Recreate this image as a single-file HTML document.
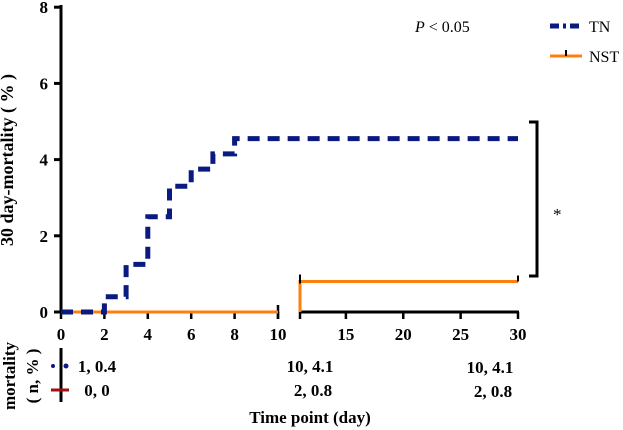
<!DOCTYPE html>
<html><head><meta charset="utf-8"><style>
body{margin:0;background:#fff}
svg{display:block;font-family:"Liberation Serif",serif}
.t{font-weight:bold;font-size:17px}
</style></head><body>
<svg width="623" height="430" viewBox="0 0 623 430">
<g id="axes"></g>
<g id="series"></g>
<text x="13" y="160" class="t" style="font-size:18px" transform="rotate(-90 13 160)" text-anchor="middle">30 day-mortality ( % )</text>
<text x="310" y="423" class="t" text-anchor="middle">Time point (day)</text>
<text x="415" y="32" font-size="16"><tspan font-style="italic">P</tspan> &lt; 0.05</text>
<g>
<line x1="550" y1="26" x2="582" y2="26" stroke="#0b1a80" stroke-width="5" stroke-dasharray="9,4,3,4"/>
<text x="589" y="32" font-size="16">TN</text></g>
<g>
<line x1="550" y1="56" x2="582" y2="56" stroke="#ff7f0e" stroke-width="3"/>
<line x1="566" y1="50" x2="566" y2="56" stroke="#000" stroke-width="2"/>
<text x="589" y="62" font-size="16">NST</text></g>
<path d="M529,122 H537 V276 H529" fill="none" stroke="#000" stroke-width="3"/>
<text x="553" y="220" font-size="17">*</text>
<g>
<line x1="61" y1="348" x2="61" y2="402" stroke="#000" stroke-width="3"/>
<circle cx="53" cy="366" r="2" fill="#0b1a80"/><circle cx="66" cy="366" r="2.5" fill="#0b1a80"/>
<line x1="51" y1="390" x2="69" y2="390" stroke="#a01010" stroke-width="3"/>
<text x="15" y="376" class="t" transform="rotate(-90 15 376)" text-anchor="middle">mortality</text>
<text x="38" y="376" class="t" transform="rotate(-90 38 376)" text-anchor="middle">( n, % )</text>
<text x="97" y="372" class="t" text-anchor="middle">1, 0.4</text>
<text x="97" y="396" class="t" text-anchor="middle">0, 0</text>
<text x="310" y="372" class="t" text-anchor="middle">10, 4.1</text>
<text x="313" y="396" class="t" text-anchor="middle">2, 0.8</text>
<text x="490" y="373" class="t" text-anchor="middle">10, 4.1</text>
<text x="493" y="397" class="t" text-anchor="middle">2, 0.8</text>
</g>
</svg>
<script>
const yTicks=[0,2,4,6,8];
const xTicks1=[0,2,4,6,8,10];
const xTicks2=[15,20,25,30];
const tnDays=[0,2,3,4,5,6,7,8,30];
const tnValues=[0,0.4,1.25,2.5,3.3,3.75,4.15,4.55,4.55];
const nstDays=[0,10,11,30];
const nstValues=[0,0,0.8,0.8];
const NS='http://www.w3.org/2000/svg';
const y=v=>312-v*38.1;
const x=d=>d<=10?61+d*21.7:300+(d-11)*(218/19);
function mk(tag,attrs,parent){const e=document.createElementNS(NS,tag);for(const k in attrs)e.setAttribute(k,attrs[k]);parent.appendChild(e);return e;}
const ax=document.getElementById('axes'),se=document.getElementById('series');
let a=mk('line',{x1:61,y1:5,x2:61,y2:313,stroke:'#000','stroke-width':3},ax);


yTicks.forEach(v=>{mk('line',{x1:54,y1:y(v),x2:61,y2:y(v),stroke:'#000','stroke-width':3},ax);
const t=mk('text',{x:48,y:y(v)+6,'text-anchor':'end',class:'t'},ax);t.textContent=v;

});
a=mk('line',{x1:60,y1:312,x2:279,y2:312,stroke:'#000','stroke-width':3},ax);


a=mk('line',{x1:300,y1:312,x2:519,y2:312,stroke:'#000','stroke-width':3},ax);


mk('line',{x1:278,y1:305,x2:278,y2:319,stroke:'#000','stroke-width':2.5},ax);
mk('line',{x1:300,y1:312,x2:300,y2:319,stroke:'#000','stroke-width':2.5},ax);
xTicks1.concat(xTicks2).forEach(d=>{mk('line',{x1:x(d),y1:312,x2:x(d),y2:319,stroke:'#000','stroke-width':2.5},ax);
const t=mk('text',{x:x(d),y:340,'text-anchor':'middle',class:'t'},ax);t.textContent=d;

});
function stepPath(days,vals){let d='M'+x(days[0])+','+y(vals[0]);for(let i=1;i<days.length;i++){d+=' H'+x(days[i])+' V'+y(vals[i]);}return d;}
let p=mk('path',{d:'M'+x(0)+','+y(0)+' H'+x(10),fill:'none',stroke:'#ff7f0e','stroke-width':3},se);


p=mk('path',{d:'M'+x(11)+','+y(nstValues[1])+' V'+y(nstValues[2])+' H'+x(30),fill:'none',stroke:'#ff7f0e','stroke-width':3},se);


mk('line',{x1:x(11),y1:y(0.8)-7,x2:x(11),y2:y(0.8)+2,stroke:'#000','stroke-width':2},se);
mk('line',{x1:x(30),y1:y(0.8)-6,x2:x(30),y2:y(0.8),stroke:'#000','stroke-width':2},se);
p=mk('path',{d:stepPath(tnDays,tnValues),fill:'none',stroke:'#0b1a80','stroke-width':5,'stroke-dasharray':'12,8'},se);


</script>
</body></html>
